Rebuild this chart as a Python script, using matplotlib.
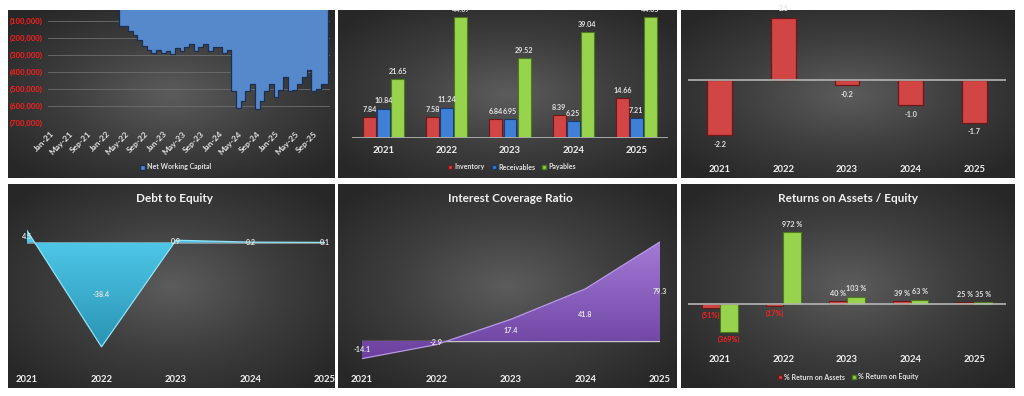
import numpy as np
import matplotlib
matplotlib.use('Agg')
import matplotlib.pyplot as plt
from matplotlib.colors import LinearSegmentedColormap
from matplotlib.patches import Patch, Polygon

plt.rcParams['font.family'] = ['Lato', 'DejaVu Sans']
plt.rcParams['font.weight'] = 'bold'

# ---------------- data
years = ['2021', '2022', '2023', '2024', '2025']

nwc_ticks = ['Jan-21', 'May-21', 'Sep-21', 'Jan-22', 'May-22', 'Sep-22', 'Jan-23', 'May-23',
             'Sep-23', 'Jan-24', 'May-24', 'Sep-24', 'Jan-25', 'May-25', 'Sep-25']
# monthly net working capital, Jan-21 .. Dec-25
nwc = [0, 0, 0, 0, 0, 0, 0, 0, 0, 0, 0, 0, 0, 0, 0,
       -130000, -130000, -157000, -183000, -212000, -245000, -270000, -290000, -270000,
       -290000, -275000, -295000, -260000, -275000, -255000, -235000, -275000, -255000,
       -235000, -275000, -255000,
       -250000, -290000, -270000, -510000, -610000, -570000, -510000, -470000, -615000,
       -570000, -510000, -470000,
       -545000, -505000, -430000, -510000, -505000, -470000, -430000, -390000, -510000,
       -500000, -470000, -470000]

inventory = [7.84, 7.58, 6.84, 8.39, 14.66]
receivables = [10.84, 11.24, 6.95, 6.25, 7.21]
payables = [21.65, 44.67, 29.52, 39.04, 44.65]

cash_cycle = [-2.2, 2.5, -0.2, -1.0, -1.7]

debt_equity = [4.5, -38.4, 0.9, 0.2, 0.1]
interest_cov = [-14.1, -2.9, 17.4, 41.8, 79.3]

roa = [-51, -17, 40, 39, 25]
roe = [-369, 972, 103, 63, 35]

# ---------------- layout helpers
W, H = 1024, 396
fig = plt.figure(figsize=(W / 100, H / 100), dpi=100, facecolor='white')


def frac(x0, y0, x1, y1):
    return [x0 / W, 1 - y1 / H, (x1 - x0) / W, (y1 - y0) / H]


bg_cmap = LinearSegmentedColormap.from_list('bg', ['#5c5c5c', '#3e3e3e', '#272727'])


def panel(x0, y0, x1, y1):
    b = fig.add_axes(frac(x0, y0, x1, y1), zorder=0)
    gx, gy = np.meshgrid(np.linspace(-1, 1, 200), np.linspace(-1, 1, 120))
    r = np.clip(np.sqrt(gx ** 2 + gy ** 2) / 1.3, 0, 1)
    b.imshow(r, cmap=bg_cmap, aspect='auto', extent=[0, 1, 0, 1], vmin=0, vmax=1)
    b.axis('off')


def style(ax):
    ax.set_facecolor('none')
    for s in ax.spines.values():
        s.set_visible(False)
    ax.tick_params(length=0, colors='#f0f0f0')


lab_c = '#e2e2e2'
red, red_e = '#d24545', '#6e1818'
blue, blue_e = '#3f7fd6', '#1a3a70'
green, green_e = '#97d34c', '#4d7a1c'

panels = [(8, 10, 335, 178), (338, 10, 677, 178), (681, 10, 1015, 178),
          (8, 184, 335, 388), (338, 184, 677, 388), (681, 184, 1015, 388)]
for p in panels:
    panel(*p)

# ------------------- net working capital
ax1 = fig.add_axes(frac(48, 10, 330, 123), zorder=1)
style(ax1)
idx = np.arange(len(nwc))
ax1.fill_between(idx, nwc, 0, step='mid', facecolor='#5688cc', edgecolor='#1c2f50', linewidth=0.9, zorder=2)
ax1.set_xlim(-0.5, len(nwc) - 0.5)
ax1.set_ylim(-700000, -35000)
yt = np.arange(-700000, -99999, 100000)
ax1.set_yticks(yt)
ax1.set_yticklabels(['(%s)' % format(abs(v), ',') for v in yt], color='#ff1e1e', fontsize=5.5)
ax1.grid(axis='y', color='#6e6e6e', linewidth=0.6, zorder=0)
ax1.set_xticks(np.arange(0, len(nwc), 4))
ax1.set_xticklabels(nwc_ticks, rotation=45, ha='right', rotation_mode='anchor', fontsize=6, color=lab_c)
ax1.tick_params(axis='y', pad=4, colors='#ff1e1e')
ax1.tick_params(axis='x', pad=5)
fig.legend(handles=[Patch(facecolor='#5688cc', edgecolor='#1c2f50')], labels=['Net Working Capital'],
           loc='center', bbox_to_anchor=(176 / W, 1 - 167 / H), frameon=False, fontsize=5,
           handlelength=0.7, handleheight=0.7, handletextpad=0.3, labelcolor=lab_c)

# ------------------- inventory / receivables / payables days
ax2 = fig.add_axes(frac(352, 10, 668, 138), zorder=1)
style(ax2)
x = np.arange(len(years))
for off, vals, fc, ec in zip([-0.222, 0, 0.222], [inventory, receivables, payables],
                             [red, blue, green], [red_e, blue_e, green_e]):
    bars = ax2.bar(x + off, vals, width=0.205, color=fc, edgecolor=ec, linewidth=0.8, zorder=2)
    for b, v in zip(bars, vals):
        ax2.annotate('%.2f' % v, (b.get_x() + b.get_width() / 2, v), xytext=(0, 3),
                     textcoords='offset points', ha='center', va='bottom', fontsize=5.2, color=lab_c,
                     annotation_clip=False, clip_on=True)
ax2.axhline(0, color='#a8a8a8', linewidth=1.4, zorder=3)
ax2.set_xlim(-0.5, 4.5)
ax2.set_ylim(0, 47.2)
ax2.set_yticks([])
ax2.set_xticks(x)
ax2.set_xticklabels(years, fontsize=6.8)
ax2.tick_params(axis='x', pad=6)
fig.legend(handles=[Patch(facecolor=red, edgecolor=red_e), Patch(facecolor=blue, edgecolor=blue_e),
                    Patch(facecolor=green, edgecolor=green_e)],
           labels=['Inventory', 'Receivables', 'Payables'], loc='center', ncol=3,
           bbox_to_anchor=(512 / W, 1 - 167 / H), frameon=False, fontsize=5, handlelength=0.6,
           handleheight=0.6, handletextpad=0.3, columnspacing=1.0, labelcolor=lab_c)

# ------------------- cash cycle bars
ax3 = fig.add_axes(frac(688, 10, 1006, 150), zorder=1)
style(ax3)
bars = ax3.bar(x, cash_cycle, width=0.39, color=red, edgecolor=red_e, linewidth=0.9, zorder=2)
for b, v in zip(bars, cash_cycle):
    ax3.annotate('%.1f' % v, (b.get_x() + b.get_width() / 2, v), xytext=(0, 4 if v > 0 else -4),
                 textcoords='offset points', ha='center', va='bottom' if v > 0 else 'top',
                 fontsize=5.2, color=lab_c, annotation_clip=False)
ax3.axhline(0, color='#b4b4b4', linewidth=1.2, zorder=3)
ax3.set_xlim(-0.5, 4.5)
ax3.set_ylim(-2.8, 2.8)
ax3.set_yticks([])
ax3.set_xticks(x)
ax3.set_xticklabels(years, fontsize=6.8)
ax3.tick_params(axis='x', pad=11)


# ------------------- area charts
def grad_area(ax, vals, top_c, bot_c, edge_c):
    xs = np.arange(len(vals))
    verts = [(0, 0)] + list(zip(xs, vals)) + [(xs[-1], 0)]
    poly = Polygon(verts, closed=True, facecolor='none', edgecolor='none')
    ax.add_patch(poly)
    cm = LinearSegmentedColormap.from_list('g', [top_c, bot_c])
    im = ax.imshow(np.linspace(0, 1, 256).reshape(-1, 1), cmap=cm, aspect='auto',
                   extent=[0, xs[-1], min(vals), max(max(vals), 0)], zorder=2)
    im.set_clip_path(poly)
    ax.plot(xs, vals, color=edge_c, linewidth=0.9, zorder=3)
    for xi, v in zip(xs, vals):
        ax.text(xi, v / 2, '%.1f' % v, ha='center', va='center', fontsize=5.2, color=lab_c, zorder=4)


ax4 = fig.add_axes(frac(27, 215, 325, 365), zorder=1)
style(ax4)
ax4.axhline(0, color='#9a9a9a', linewidth=1.2, zorder=1)
grad_area(ax4, debt_equity, '#52cdee', '#2a93b3', '#8fe3f6')
ax4.set_xlim(0, 4)
ax4.set_ylim(-45.1, 10.2)
ax4.set_yticks([])
ax4.set_xticks(x)
ax4.set_xticklabels(years, fontsize=6.8)
ax4.tick_params(axis='x', pad=7)
fig.text(175 / W, 1 - 198 / H, 'Debt to Equity', ha='center', va='center', fontsize=8.5, color='#f2f2f2')

ax5 = fig.add_axes(frac(362, 215, 660, 365), zorder=1)
style(ax5)
ax5.axhline(0, color='#c8c8c8', linewidth=1.0, zorder=1)
grad_area(ax5, interest_cov, '#a27bd6', '#6a3f9e', '#b899e2')
ax5.set_xlim(0, 4)
ax5.set_ylim(-19.2, 100.8)
ax5.set_yticks([])
ax5.set_xticks(x)
ax5.set_xticklabels(years, fontsize=6.8)
ax5.tick_params(axis='x', pad=7)
fig.text(510 / W, 1 - 198 / H, 'Interest Coverage Ratio', ha='center', va='center', fontsize=8.5,
         color='#f2f2f2')

# ------------------- returns on assets / equity
ax6 = fig.add_axes(frac(688, 215, 1006, 348), zorder=1)
style(ax6)
for off, vals, fc, ec in zip([-0.14, 0.14], [roa, roe], [red, green], [red_e, green_e]):
    bars = ax6.bar(x + off, vals, width=0.28, color=fc, edgecolor=ec, linewidth=0.8, zorder=2)
    for b, v in zip(bars, vals):
        if v < 0:
            ax6.annotate('(%d%%)' % abs(v), (b.get_x() + b.get_width() / 2, v), xytext=(0, -3),
                         textcoords='offset points', ha='center', va='top', fontsize=5.2,
                         color='#ff1e1e', annotation_clip=False)
        else:
            ax6.annotate('%d %%' % v, (b.get_x() + b.get_width() / 2, v), xytext=(0, 3),
                         textcoords='offset points', ha='center', va='bottom', fontsize=5.2,
                         color=lab_c, annotation_clip=False)
ax6.axhline(0, color='#b4b4b4', linewidth=1.2, zorder=3)
ax6.set_xlim(-0.5, 4.5)
ax6.set_ylim(-590, 1205)
ax6.set_yticks([])
ax6.set_xticks(x)
ax6.set_xticklabels(years, fontsize=6.8)
ax6.tick_params(axis='x', pad=5)
fig.text(848 / W, 1 - 198 / H, 'Returns on Assets / Equity', ha='center', va='center', fontsize=8.5,
         color='#f2f2f2')
fig.legend(handles=[Patch(facecolor=red, edgecolor=red_e), Patch(facecolor=green, edgecolor=green_e)],
           labels=['% Return on Assets', '% Return on Equity'], loc='center', ncol=2,
           bbox_to_anchor=(848 / W, 1 - 377 / H), frameon=False, fontsize=5, handlelength=0.6,
           handleheight=0.6, handletextpad=0.3, columnspacing=1.0, labelcolor=lab_c)

fig.savefig('out.png', dpi=100, facecolor='white')
